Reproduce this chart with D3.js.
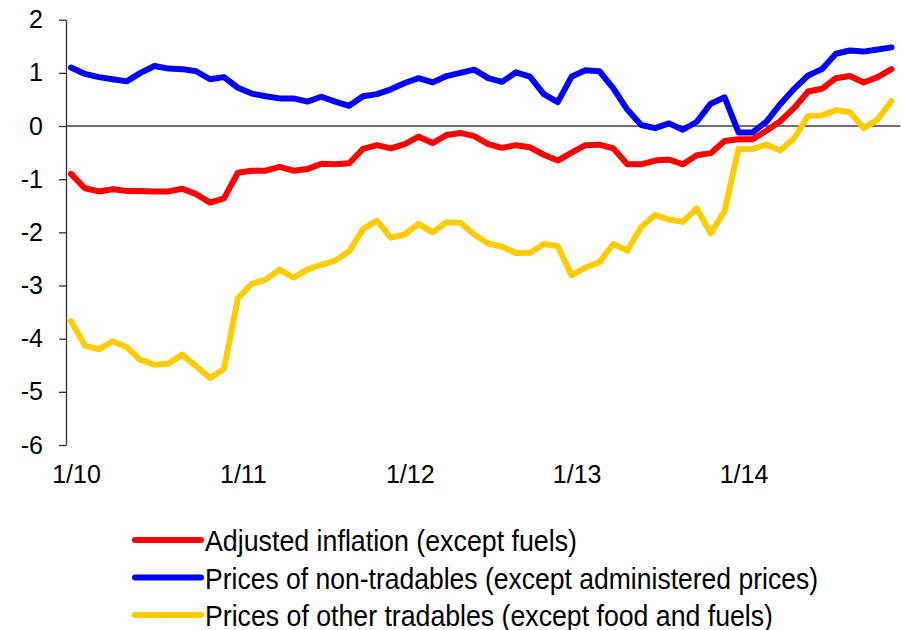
<!DOCTYPE html>
<html>
<head>
<meta charset="utf-8">
<script src="https://cdn.jsdelivr.net/npm/d3@7"></script>
<style>
  body { margin: 0; background: #fff; }
  text { font-family: Arial, "Liberation Sans", sans-serif; fill: #000; }
</style>
</head>
<body>
<script>
// months 1/10 .. 12/14
var years = [10, 11, 12, 13, 14];
var months = [];
years.forEach(function(yr){
  for (var m = 1; m <= 12; m++) months.push(m + "/" + yr);
});

var yTicks = [-6, -5, -4, -3, -2, -1, 0, 1, 2];

var adjusted = [
  -0.90, -1.17, -1.23, -1.19, -1.22, -1.22, -1.23, -1.23, -1.18, -1.28, -1.44, -1.36,
  -0.88, -0.84, -0.84, -0.77, -0.84, -0.81, -0.71, -0.72, -0.70, -0.43, -0.36, -0.42,
  -0.34, -0.20, -0.32, -0.17, -0.13, -0.19, -0.34, -0.41, -0.36, -0.40, -0.54, -0.65,
  -0.50, -0.36, -0.35, -0.42, -0.72, -0.72, -0.65, -0.63, -0.72, -0.55, -0.51, -0.28,
  -0.25, -0.25, -0.09, 0.09, 0.34, 0.65, 0.70, 0.90, 0.94, 0.82, 0.92, 1.07
];
var nonTradables = [
  1.10, 0.98, 0.92, 0.88, 0.84, 1.00, 1.13, 1.08, 1.07, 1.03, 0.88, 0.92,
  0.72, 0.61, 0.56, 0.52, 0.52, 0.46, 0.55, 0.46, 0.38, 0.56, 0.60, 0.69,
  0.81, 0.90, 0.82, 0.94, 1.00, 1.06, 0.90, 0.83, 1.01, 0.93, 0.60, 0.45,
  0.93, 1.05, 1.03, 0.71, 0.31, 0.02, -0.04, 0.05, -0.07, 0.08, 0.42, 0.54,
  -0.12, -0.12, 0.08, 0.41, 0.70, 0.95, 1.07, 1.36, 1.42, 1.40, 1.44, 1.48
];
var otherTradables = [
  -3.67, -4.13, -4.20, -4.05, -4.16, -4.40, -4.49, -4.47, -4.30, -4.52, -4.74, -4.57,
  -3.24, -2.97, -2.89, -2.70, -2.85, -2.70, -2.61, -2.53, -2.36, -1.94, -1.78, -2.10,
  -2.04, -1.84, -2.00, -1.81, -1.82, -2.04, -2.21, -2.27, -2.39, -2.39, -2.22, -2.26,
  -2.81, -2.66, -2.56, -2.22, -2.34, -1.90, -1.67, -1.76, -1.80, -1.55, -2.02, -1.60,
  -0.43, -0.43, -0.35, -0.46, -0.23, 0.19, 0.20, 0.30, 0.26, -0.04, 0.12, 0.47
];

var seriesNames = [
  "Adjusted inflation (except fuels)",
  "Prices of non-tradables (except administered prices)",
  "Prices of other tradables (except food and fuels)"
];
var seriesColors = ["#ff0000", "#0000ff", "#ffcc00"];
var seriesData = [adjusted, nonTradables, otherTradables];

var svg = d3.select("body").append("svg")
            .attr("width", 901)
            .attr("height", 630);

var x = d3.scaleLinear().domain([0, months.length - 1]).range([71, 891.5]);
var y = d3.scaleLinear().domain([-6, 2]).range([445, 19.7]);

// y axis
var yAxis = d3.axisLeft(y)
  .tickValues(yTicks)
  .tickSize(7)
  .tickSizeOuter(0)
  .tickPadding(16)
  .tickFormat(function(d){ return String(d); });

var gy = svg.append("g")
  .attr("transform", "translate(66,0)")
  .call(yAxis);
gy.select(".domain").attr("stroke", "#333").attr("stroke-width", 1.3);
gy.selectAll(".tick line").attr("stroke", "#333").attr("stroke-width", 1.3);
gy.selectAll(".tick text")
  .attr("font-size", 25)
  .attr("font-family", "Arial, 'Liberation Sans', sans-serif")
  .attr("fill", "#000");

// zero line
svg.append("line")
  .attr("x1", 66)
  .attr("x2", 900)
  .attr("y1", y(0))
  .attr("y2", y(0))
  .attr("stroke", "#404040")
  .attr("stroke-width", 1.5);

// x labels (January of each year)
var xTickIdx = months.map(function(d, i){ return i; })
  .filter(function(i){ return months[i].split("/")[0] === "1"; });

var xAxis = d3.axisBottom(x)
  .tickValues(xTickIdx)
  .tickSize(0)
  .tickPadding(0)
  .tickFormat(function(i){ return months[i]; });

var gx = svg.append("g")
  .attr("transform", "translate(5,465)")
  .call(xAxis);
gx.select(".domain").remove();
gx.selectAll(".tick text")
  .attr("font-size", 25)
  .attr("font-family", "Arial, 'Liberation Sans', sans-serif")
  .attr("fill", "#000");

// lines
var line = d3.line()
  .x(function(d, i){ return x(i); })
  .y(function(d){ return y(d); });

svg.selectAll("path.series")
  .data(seriesData)
  .enter().append("path")
    .attr("class", "series")
    .attr("fill", "none")
    .attr("stroke", function(d, i){ return seriesColors[i]; })
    .attr("stroke-width", 6)
    .attr("stroke-linejoin", "round")
    .attr("stroke-linecap", "round")
    .attr("d", line);

// legend
var legend = svg.selectAll("g.legend")
  .data(seriesNames)
  .enter().append("g")
    .attr("class", "legend")
    .attr("transform", function(d, i){ return "translate(0," + (540 + i * 37.5) + ")"; });

legend.append("line")
  .attr("x1", 135)
  .attr("x2", 201)
  .attr("y1", 0)
  .attr("y2", 0)
  .attr("stroke", function(d, i){ return seriesColors[i]; })
  .attr("stroke-width", 6)
  .attr("stroke-linecap", "round");

legend.append("text")
  .attr("x", 205)
  .attr("y", 11)
  .attr("font-size", 30)
  .attr("textLength", function(d, i){ return [372, 613, 568][i]; })
  .attr("lengthAdjust", "spacingAndGlyphs")
  .text(function(d){ return d; });
</script>
</body>
</html>
